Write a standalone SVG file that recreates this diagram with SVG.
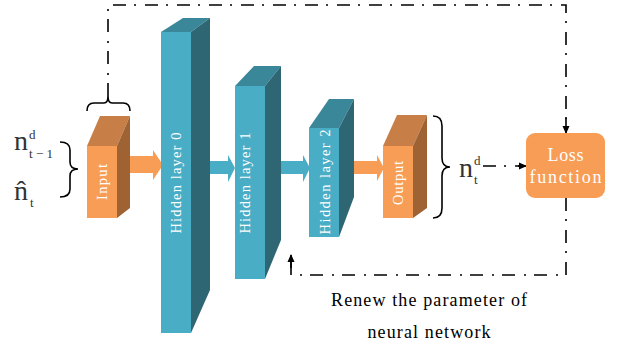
<svg xmlns="http://www.w3.org/2000/svg" width="620" height="348" viewBox="0 0 620 348">
<style>
.of{fill:#F79D56}.ot{fill:#C77E47}.os{fill:#9E6233}
.tf{fill:#4AADC6}.tt{fill:#3A8799}.ts{fill:#2E6673}
.lbl{font-family:"Liberation Serif",serif;font-size:14.5px;fill:#ffffff}
.math{font-family:"Liberation Serif",serif;fill:#333}
.line{fill:none;stroke:#000;stroke-width:1.6}
.dd{stroke-dasharray:13 8 2 9}
.cap{font-family:"Liberation Serif",serif;font-size:18px;fill:#000}
.lt{font-family:"Liberation Serif",serif;font-size:18px;fill:#fff}
</style>
<defs>
<marker id="ah" markerWidth="8" markerHeight="8" refX="7" refY="4" orient="auto" markerUnits="userSpaceOnUse">
<path d="M0,0.5 L8,4 L0,7.5 Z" fill="#000"/>
</marker>
</defs>
<g id="connectors">
<path class="line dd" d="M108,96 V5 H566 V125"/>
<path class="line" d="M566,118 V133" marker-end="url(#ah)"/>
<path class="line dd" d="M566,198 V275 H291 V262"/>
<path class="line" d="M291,268 V255" marker-end="url(#ah)"/>
<path class="line dd" d="M483,166 H520"/>
<path class="line" d="M518,166 H526" marker-end="url(#ah)"/>
<polygon class="of" points="123,156 153,156 153,150 163,165 153,180 153,173 123,173"/>
<polygon class="tf" points="197,161 228,161 228,155 235,168 228,182 228,174 197,174"/>
<polygon class="tf" points="272,161 303,161 303,155 310,168 303,182 303,174 272,174"/>
<polygon class="of" points="346,161 377,161 377,155 384,168 377,181 377,174 346,174"/>
</g>
<g id="input">
<polygon class="ot" points="87,146 100,116 130,116 117,146"/>
<polygon class="os" points="117,146 130,116 130,208 117,218"/>
<rect class="of" x="87" y="146" width="30" height="72"/>
<text class="lbl" transform="translate(106.5,182) rotate(-90)" text-anchor="middle" textLength="36" lengthAdjust="spacing">Input</text>
<path class="line" d="M87,111 Q87,103 94,103 H104 Q108,103 108,96 Q108,103 112,103 H123 Q130,103 130,111"/>
</g>
<g id="hidden0">
<polygon class="tt" points="161,32 183,18 210,18 191,32"/>
<polygon class="ts" points="191,32 210,18 210,290 191,333"/>
<rect class="tf" x="161" y="32" width="30" height="301"/>
<text class="lbl" transform="translate(180.5,183) rotate(-90)" text-anchor="middle" textLength="101" lengthAdjust="spacing">Hidden layer 0</text>
</g>
<g id="hidden1">
<polygon class="tt" points="235,86 254,66 281,66 265,86"/>
<polygon class="ts" points="265,86 281,66 281,240 265,279"/>
<rect class="tf" x="235" y="86" width="30" height="193"/>
<text class="lbl" transform="translate(249.5,183) rotate(-90)" text-anchor="middle" textLength="101" lengthAdjust="spacing">Hidden layer 1</text>
</g>
<g id="hidden2">
<polygon class="tt" points="309,128 329,99 354,99 339,128"/>
<polygon class="ts" points="339,128 354,99 354,197 339,237"/>
<rect class="tf" x="309" y="128" width="30" height="109"/>
<text class="lbl" transform="translate(329.5,182) rotate(-90)" text-anchor="middle" textLength="105" lengthAdjust="spacing">Hidden layer 2</text>
</g>
<g id="output">
<polygon class="ot" points="383,146 397,115 427,115 413,146"/>
<polygon class="os" points="413,146 427,115 427,208 413,218"/>
<rect class="of" x="383" y="146" width="30" height="72"/>
<text class="lbl" transform="translate(402.5,183) rotate(-90)" text-anchor="middle" textLength="44" lengthAdjust="spacing">Output</text>
<path class="line" d="M433,116 Q442,116 442,126 V158 Q442,167 450,167 Q442,167 442,176 V208 Q442,218 433,218"/>
</g>
<g id="inputs-label">
<text class="math" x="14" y="150" font-size="28">n</text>
<text class="math" x="29" y="139" font-size="13">d</text>
<text class="math" x="29" y="158" font-size="13" textLength="24" lengthAdjust="spacing">t−1</text>
<text class="math" x="14" y="200" font-size="28">n̂</text>
<text class="math" x="30" y="207" font-size="13">t</text>
<path class="line" d="M60,142 Q70,142 70,150 V162 Q70,169 78,169 Q70,169 70,176 V189 Q70,197 60,197"/>
</g>
<g id="output-label">
<text class="math" x="459" y="177" font-size="28">n</text>
<text class="math" x="474" y="165" font-size="13">d</text>
<text class="math" x="474" y="184" font-size="13">t</text>
</g>
<g id="loss">
<rect x="526" y="133" width="79" height="65" rx="9" fill="#F79D56"/>
<text class="lt" x="565.5" y="161" text-anchor="middle" textLength="36" lengthAdjust="spacing">Loss</text>
<text class="lt" x="565.5" y="183" text-anchor="middle" textLength="72" lengthAdjust="spacing">function</text>
</g>
<g id="caption">
<text class="cap" x="429" y="306" text-anchor="middle" textLength="196" lengthAdjust="spacing">Renew the parameter of</text>
<text class="cap" x="429" y="338" text-anchor="middle" textLength="123" lengthAdjust="spacing">neural network</text>
</g>
</svg>
